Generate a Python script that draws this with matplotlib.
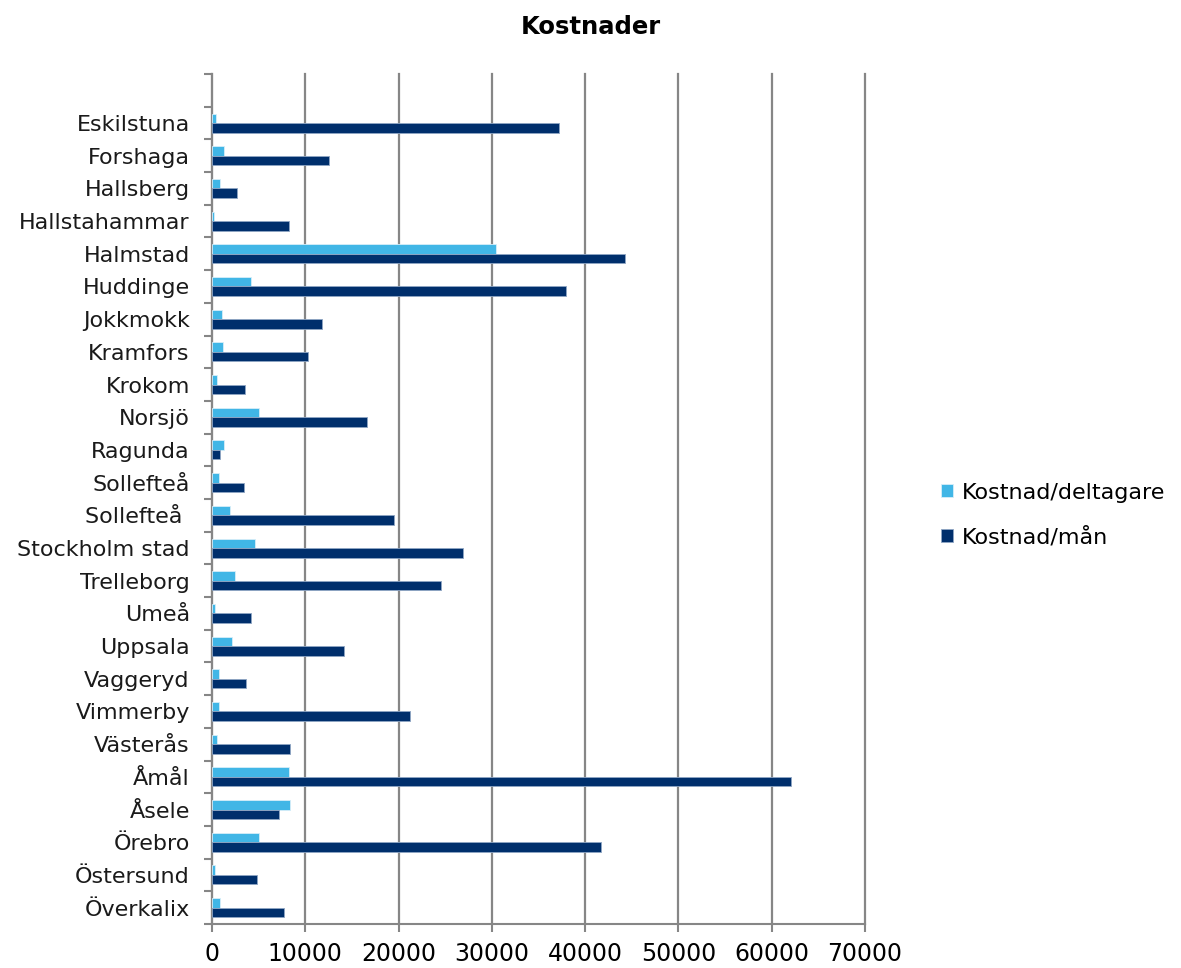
import matplotlib
matplotlib.use("Agg")
import matplotlib.pyplot as plt
import numpy as np

# Kommuner, uppifrån och ned
kommuner = ["Eskilstuna", "Forshaga", "Hallsberg", "Hallstahammar", "Halmstad",
            "Huddinge", "Jokkmokk", "Kramfors", "Krokom", "Norsjö", "Ragunda",
            "Sollefteå", "Sollefteå ", "Stockholm stad", "Trelleborg", "Umeå",
            "Uppsala", "Vaggeryd", "Vimmerby", "Västerås", "Åmål", "Åsele",
            "Örebro", "Östersund", "Överkalix"]

kostnad_deltagare = [430, 1290, 820, 250, 30440, 4180, 1040, 1150, 570, 5040,
                     1290, 720, 1960, 4640, 2470, 290, 2110, 720, 720, 500,
                     8290, 8360, 5040, 290, 820]

kostnad_man = [37220, 12500, 2710, 8290, 44270, 37940, 11790, 10260, 3540,
               16650, 890, 3460, 19510, 26940, 24540, 4210, 14180, 3610,
               21220, 8360, 62020, 7150, 41660, 4790, 7720]

x_ticks = [0, 10000, 20000, 30000, 40000, 50000, 60000, 70000]

plt.rcParams['font.family'] = ['DejaVu Sans']

fig = plt.figure(figsize=(11.81, 9.68), dpi=100)
ax = fig.add_axes([212 / 1181, 1 - 924 / 968, (865 - 212) / 1181, (924 - 74) / 968])

light = '#41b6e6'
dark = '#002f6c'
y = np.arange(len(kommuner))
h = 0.29

ax.barh(y - h / 2, kostnad_deltagare, height=h, color=light,
        edgecolor='#d6eef9', linewidth=0.6, label='Kostnad/deltagare', zorder=3)
ax.barh(y + h / 2, kostnad_man, height=h, color=dark,
        edgecolor='#8fa6c4', linewidth=0.6, label='Kostnad/mån', zorder=3)

ax.set_xlim(0, 70000)
ax.set_ylim(len(kommuner) - 0.5, -1.5)

ax.set_xticks(x_ticks)
ax.set_xticklabels([str(v) for v in x_ticks], fontsize=17,
                   family=['Liberation Sans Narrow', 'DejaVu Sans'])
ax.set_yticks(y)
ax.set_yticklabels(kommuner, fontsize=16, color='#1a1a1a')
ax.tick_params(axis='y', which='major', length=0, pad=16)
ax.set_yticks(np.arange(-1.5, len(kommuner), 1.0), minor=True)
ax.tick_params(axis='y', which='minor', length=6, width=1.5, color='#868686', direction='out')
ax.tick_params(axis='x', which='major', length=6, width=1.5, color='#868686',
               direction='out', pad=7)

ax.grid(axis='x', color='#868686', linewidth=1.6, zorder=0)
for line in ax.get_xgridlines():
    line.set_clip_on(False)
for s in ['top', 'right']:
    ax.spines[s].set_visible(False)
for s in ['left', 'bottom']:
    ax.spines[s].set_color('#868686')
    ax.spines[s].set_linewidth(1.5)

fig.text(0.5, 1 - 27 / 968, 'Kostnader', ha='center', va='center',
         fontsize=17.5, fontweight='bold')

fig.legend(loc='center left', bbox_to_anchor=(921 / 1181, 1 - 515 / 968),
           frameon=False, fontsize=16, handlelength=0.55, handleheight=0.55,
           handletextpad=0.4, labelspacing=1.1)

fig.savefig('out.png', dpi=100)
